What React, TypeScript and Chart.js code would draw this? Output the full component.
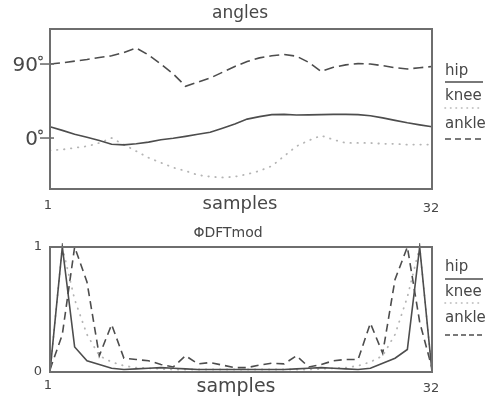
import { useEffect, useRef } from "react";
import { Chart, registerables } from "chart.js";

Chart.register(...registerables);

// ---------- data ----------
const samples = Array.from({ length: 32 }, (_, i) => i + 1);
const xTickLabels = [1, 32];
const seriesNames = ["hip", "knee", "ankle"];

// joint angles (degrees)
const angleHip = [13.7, 9.3, 4.5, 1, -3, -7.5, -8.3, -7, -5, -2, -0.2, 2, 4.5, 7, 12, 17, 23, 26, 28.5, 28.8, 28, 28.2, 28.5, 28.8, 28.8, 28.5, 27, 24.5, 21.5, 18.5, 16, 13.7];
const angleKnee = [-15, -14, -12, -10, -6, 0, -8, -16, -24, -30, -36, -40, -45, -47, -48, -47, -44, -40, -34, -22, -10, -3, 3, -2, -6, -6, -6, -7, -7, -8, -8, -8];
const angleAnkle = [90, 91.5, 93.5, 95.5, 98, 100, 104, 109.5, 101, 90, 78, 63, 68, 73, 80, 87, 93, 97.5, 100, 101.5, 99.5, 92, 81, 86, 89, 90.5, 90, 88, 85.5, 84, 85.5, 87];
const angleTicks = [0, 90];

// normalised DFT modulus
const dftHip = [0, 1, 0.2, 0.09, 0.06, 0.03, 0.02, 0.025, 0.03, 0.035, 0.03, 0.025, 0.02, 0.02, 0.02, 0.02, 0.02, 0.02, 0.02, 0.02, 0.025, 0.03, 0.035, 0.03, 0.025, 0.02, 0.03, 0.07, 0.11, 0.18, 1, 0];
const dftKnee = [0, 1, 0.58, 0.3, 0.13, 0.08, 0.05, 0.035, 0.03, 0.025, 0.02, 0.02, 0.02, 0.02, 0.02, 0.02, 0.02, 0.02, 0.02, 0.02, 0.02, 0.02, 0.025, 0.03, 0.035, 0.05, 0.08, 0.13, 0.3, 0.6, 1, 0];
const dftAnkle = [0.02, 0.3, 1, 0.72, 0.13, 0.38, 0.11, 0.1, 0.09, 0.06, 0.04, 0.13, 0.065, 0.075, 0.055, 0.035, 0.035, 0.055, 0.07, 0.065, 0.13, 0.04, 0.06, 0.09, 0.1, 0.1, 0.39, 0.15, 0.74, 1, 0.4, 0.03];
const dftTicks = [0, 1];

// ---------- styles ----------
const FONT = '"DejaVu Sans", sans-serif';
const INK = "#474747";
const FRAME = "#6e6e6e";
const LINE = "#4d4d4d";
const DOT = "#b5b5b5";

type Spec = {
  title: string;
  titleX: number;
  titleY: number;
  titleSize: number;
  yTicks: number[];
  yLabelX: number;
  yLabelSize: number;
  yLabelDy: number;
  degree: boolean;
  tickMarks: boolean;
  xLabelY: number;
  xLabelSize: number;
  samplesX: number;
  samplesY: number;
  samplesSize: number;
  legendX: number;
  legendY: number[];
  legendLineY: number[];
  legendDash: number[][];
  legendSize: number;
};

function decor(spec: Spec) {
  return {
    id: "decor",
    afterDatasetsDraw(chart: any) {
      const { ctx, chartArea: a, scales } = chart;
      const xs = scales.x;
      const ys = scales.y;
      ctx.save();
      // frame
      ctx.setLineDash([]);
      ctx.strokeStyle = FRAME;
      ctx.lineWidth = 2;
      ctx.strokeRect(a.left, a.top, a.right - a.left, a.bottom - a.top);

      ctx.fillStyle = INK;
      ctx.textBaseline = "middle";
      ctx.textAlign = "center";
      // title
      ctx.font = `${spec.titleSize}px ${FONT}`;
      ctx.fillText(spec.title, spec.titleX, spec.titleY);

      // y tick labels
      ctx.font = `${spec.yLabelSize}px ${FONT}`;
      ctx.textAlign = "right";
      spec.yTicks.forEach((t) => {
        const py = ys.getPixelForValue(t);
        ctx.fillText(String(t), spec.yLabelX, py + spec.yLabelDy);
        if (spec.degree) {
          ctx.beginPath();
          ctx.strokeStyle = INK;
          ctx.lineWidth = 1.2;
          ctx.arc(spec.yLabelX + 2.5, py - 6, 1.8, 0, Math.PI * 2);
          ctx.stroke();
        }
        if (spec.tickMarks) {
          ctx.beginPath();
          ctx.strokeStyle = FRAME;
          ctx.lineWidth = 1.6;
          ctx.moveTo(a.left - 10, py);
          ctx.lineTo(a.left + 4, py);
          ctx.stroke();
        }
      });

      // x labels
      ctx.textAlign = "center";
      ctx.font = `${spec.xLabelSize}px ${FONT}`;
      xTickLabels.forEach((t, i) => {
        const px = xs.getPixelForValue(samples.indexOf(t));
        ctx.fillText(String(t), px + (i === 0 ? -2 : -1), spec.xLabelY + (i === 0 ? 0 : 3));
      });
      ctx.font = `${spec.samplesSize}px ${FONT}`;
      ctx.fillText("samples", spec.samplesX, spec.samplesY);

      // legend
      ctx.textAlign = "left";
      ctx.font = `${spec.legendSize}px ${FONT}`;
      chart.data.datasets.forEach((ds: any, i: number) => {
        ctx.fillStyle = INK;
        ctx.fillText(ds.label, spec.legendX, spec.legendY[i]);
        ctx.beginPath();
        ctx.setLineDash(spec.legendDash[i]);
        ctx.lineCap = i === 1 ? "round" : "butt";
        ctx.strokeStyle = ds.borderColor;
        ctx.lineWidth = 1.6;
        ctx.moveTo(spec.legendX, spec.legendLineY[i]);
        ctx.lineTo(spec.legendX + 38, spec.legendLineY[i]);
        ctx.stroke();
      });
      ctx.restore();
    },
  };
}

function makeDatasets(hip: number[], knee: number[], ankle: number[], ankleDash: number[]) {
  return [
    {
      label: seriesNames[0],
      data: hip,
      borderColor: LINE,
      borderWidth: 1.6,
      pointRadius: 0,
      tension: 0,
      clip: 4,
    },
    {
      label: seriesNames[1],
      data: knee,
      borderColor: DOT,
      borderWidth: 1.8,
      borderDash: [0.5, 6.5],
      borderCapStyle: "round",
      pointRadius: 0,
      tension: 0,
      clip: 4,
    },
    {
      label: seriesNames[2],
      data: ankle,
      borderColor: LINE,
      borderWidth: 1.6,
      borderDash: ankleDash,
      pointRadius: 0,
      tension: 0,
      clip: 4,
    },
  ];
}

function baseOptions(ymin: number, ymax: number, padding: any) {
  return {
    animation: false as const,
    responsive: false,
    devicePixelRatio: 1,
    layout: { padding },
    plugins: { legend: { display: false }, tooltip: { enabled: false } },
    scales: {
      x: { type: "category" as const, display: false, offset: false },
      y: { type: "linear" as const, display: false, min: ymin, max: ymax },
    },
  };
}

export default function App() {
  const topRef = useRef<HTMLCanvasElement>(null);
  const botRef = useRef<HTMLCanvasElement>(null);

  useEffect(() => {
    const top = new Chart(topRef.current!, {
      type: "line",
      data: { labels: samples, datasets: makeDatasets(angleHip, angleKnee, angleAnkle, [10, 5]) as any },
      options: baseOptions(-62, 132.6, { left: 50, right: 60, top: 29, bottom: 31 }) as any,
      plugins: [
        decor({
          title: "angles",
          titleX: 240,
          titleY: 14,
          titleSize: 17,
          yTicks: angleTicks,
          yLabelX: 38,
          yLabelSize: 20,
          yLabelDy: 1.5,
          degree: true,
          tickMarks: true,
          xLabelY: 206,
          xLabelSize: 13,
          samplesX: 240,
          samplesY: 204,
          samplesSize: 18,
          legendX: 445,
          legendY: [71, 96, 124],
          legendLineY: [82, 108, 139],
          legendDash: [[], [0.5, 5], [6, 4]],
          legendSize: 15,
        }) as any,
      ],
    });
    const bot = new Chart(botRef.current!, {
      type: "line",
      data: { labels: samples, datasets: makeDatasets(dftHip, dftKnee, dftAnkle, [8, 5]) as any },
      options: baseOptions(0, 1, { left: 50, right: 60, top: 27, bottom: 29 }) as any,
      plugins: [
        decor({
          title: "ΦDFTmod",
          titleX: 228,
          titleY: 13,
          titleSize: 14,
          yTicks: dftTicks,
          yLabelX: 42,
          yLabelSize: 13,
          yLabelDy: 0,
          degree: false,
          tickMarks: false,
          xLabelY: 166,
          xLabelSize: 13,
          samplesX: 236,
          samplesY: 167,
          samplesSize: 19,
          legendX: 445,
          legendY: [47, 72, 98],
          legendLineY: [59, 83, 115],
          legendDash: [[], [0.5, 5], [5, 3]],
          legendSize: 15,
        }) as any,
      ],
    });
    return () => {
      top.destroy();
      bot.destroy();
    };
  }, []);

  return (
    <div style={{ position: "absolute", left: 0, top: 0, width: 492, height: 401, background: "#fff" }}>
      <canvas ref={topRef} width={492} height={220} style={{ position: "absolute", left: 0, top: 0, width: 492, height: 220 }} />
      <canvas ref={botRef} width={492} height={181} style={{ position: "absolute", left: 0, top: 220, width: 492, height: 181 }} />
    </div>
  );
}
